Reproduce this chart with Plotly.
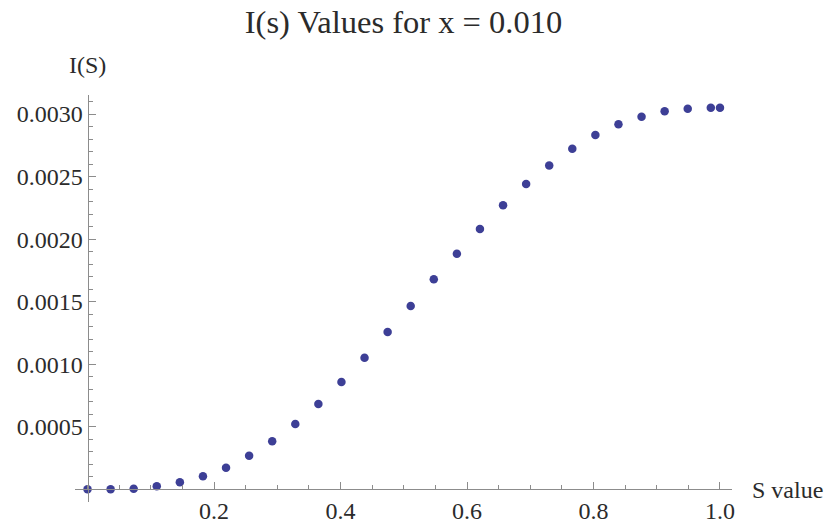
import plotly.graph_objects as go

# Data
s_values = [0.0, 0.0365, 0.073, 0.1095, 0.146, 0.1825, 0.219, 0.2555, 0.292, 0.3285,
            0.365, 0.4015, 0.438, 0.4745, 0.511, 0.5475, 0.584, 0.6205, 0.657, 0.6935,
            0.730, 0.7665, 0.803, 0.8395, 0.876, 0.9125, 0.949, 0.9855, 1.0]
i_values = [0.0, 0.0, 0.000005, 0.000024, 0.000056, 0.000104, 0.000173, 0.000268, 0.000384, 0.000522,
            0.000682, 0.000858, 0.001052, 0.001257, 0.001465, 0.001679, 0.001883, 0.002081, 0.002270, 0.002440,
            0.002588, 0.002723, 0.002832, 0.002918, 0.002979, 0.003022, 0.003042, 0.003050, 0.003050]

x_tickvals = [0.2, 0.4, 0.6, 0.8, 1.0]
x_ticktext = ["0.2", "0.4", "0.6", "0.8", "1.0"]
y_tickvals = [0.0005, 0.0010, 0.0015, 0.0020, 0.0025, 0.0030]
y_ticktext = ["0.0005", "0.0010", "0.0015", "0.0020", "0.0025", "0.0030"]

title_text = "I(s) Values for x = 0.010"
x_label = "S value"
y_label = "I(S)"

XR = [-0.0198, 1.019]
YR = [-0.0001015, 0.003152]

FONT = "Liberation Serif"
AXIS_COLOR = "#8c8c8c"
TEXT_COLOR = "#2b2b2b"
POINT_COLOR = "#3d3f96"

fig = go.Figure()
fig.add_trace(go.Scatter(
    x=s_values, y=i_values, mode="markers",
    marker=dict(size=8.5, color=POINT_COLOR, line=dict(width=0)),
    showlegend=False, cliponaxis=False,
))

x_pos = (0 - YR[0]) / (YR[1] - YR[0])   # where y = 0 sits in paper coords
y_pos = (0 - XR[0]) / (XR[1] - XR[0])   # where x = 0 sits in paper coords

fig.update_layout(
    width=829, height=525,
    margin=dict(l=75, r=97, t=95, b=23, autoexpand=False),
    paper_bgcolor="white", plot_bgcolor="white",
    font=dict(family=FONT, size=24, color=TEXT_COLOR),
    title=dict(text=title_text, x=0.5, xref="paper", xanchor="center",
               y=1 - 22 / 525, yref="container", yanchor="middle",
               font=dict(family=FONT, size=32.5, color=TEXT_COLOR)),
    xaxis=dict(
        range=XR, anchor="free", position=x_pos, side="bottom",
        automargin=False,
        showgrid=False, zeroline=False,
        showline=True, linecolor=AXIS_COLOR, linewidth=1,
        tickmode="array", tickvals=x_tickvals, ticktext=x_ticktext,
        ticks="inside", ticklen=7, tickcolor=AXIS_COLOR, tickwidth=1,
        ticklabelstandoff=0,
        tickfont=dict(family=FONT, size=24, color=TEXT_COLOR),
        minor=dict(tick0=0, dtick=0.05, ticks="inside", ticklen=4,
                   tickcolor=AXIS_COLOR, tickwidth=1, showgrid=False),
    ),
    yaxis=dict(
        range=YR, anchor="free", position=y_pos, side="left",
        automargin=False,
        showgrid=False, zeroline=False,
        showline=True, linecolor=AXIS_COLOR, linewidth=1,
        tickmode="array", tickvals=y_tickvals, ticktext=y_ticktext,
        ticks="inside", ticklen=7, tickcolor=AXIS_COLOR, tickwidth=1,
        tickfont=dict(family=FONT, size=24, color=TEXT_COLOR),
        minor=dict(tick0=0, dtick=0.0001, ticks="inside", ticklen=4,
                   tickcolor=AXIS_COLOR, tickwidth=1, showgrid=False),
    ),
    annotations=[
        dict(text=y_label, x=0, xref="x", y=1, yref="paper",
             xanchor="center", yanchor="bottom", yshift=15, showarrow=False,
             font=dict(family=FONT, size=24, color=TEXT_COLOR)),
        dict(text=x_label, x=1, xref="paper", y=0, yref="y",
             xanchor="left", yanchor="middle", xshift=18, yshift=-1, showarrow=False,
             font=dict(family=FONT, size=24, color=TEXT_COLOR)),
    ],
)

fig.write_html("out.html")
